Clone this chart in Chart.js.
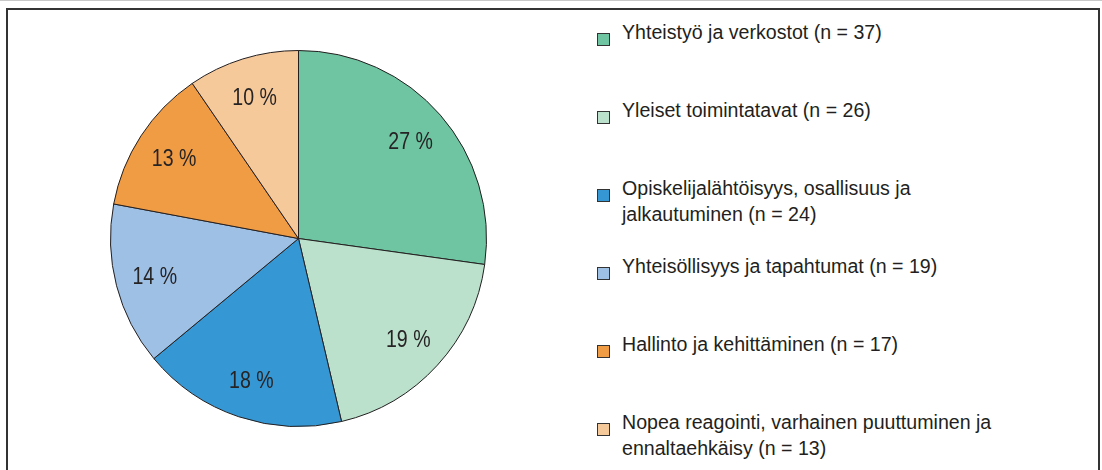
<!DOCTYPE html>
<html lang="fi">
<head>
  <meta charset="UTF-8">
  <title>Pie</title>
  <script src="https://cdn.jsdelivr.net/npm/chart.js"></script>
  <style>
    body {
      margin: 0;
      width: 1102px;
      height: 470px;
      overflow: hidden;
      background: #fff;
      position: relative;
      font-family: 'Liberation Sans', Arial, sans-serif;
    }
    #topline {
      position: absolute;
      left: 0; top: 0;
      width: 1102px; height: 1px;
      background: #c8c8c8;
    }
    #frame {
      position: absolute;
      left: 6px; top: 8px;
      width: 1090px; height: 500px;
      border: 2px solid #333;
    }
    #pieBox {
      position: absolute;
      left: 110px; top: 50px;
      width: 377px; height: 377px;
    }
    #legend {
      position: absolute;
      left: 0; top: 0;
    }
    .item {
      position: absolute;
      left: 622px;
      width: 390px;
      font-size: 19.6px;
      line-height: 25.5px;
      color: #231f20;
    }
    .box {
      position: absolute;
      left: -25px;
      top: 12.5px;
      width: 11px;
      height: 11px;
      border: 1px solid #333;
    }
  </style>
</head>
<body>
  <div id="topline"></div>
  <div id="frame"></div>
  <div id="pieBox"><canvas id="pie"></canvas></div>
  <div id="legend"></div>

  <script>
    const categories = [
      'Yhteistyö ja verkostot',
      'Yleiset toimintatavat',
      'Opiskelijalähtöisyys, osallisuus ja jalkautuminen',
      'Yhteisöllisyys ja tapahtumat',
      'Hallinto ja kehittäminen',
      'Nopea reagointi, varhainen puuttuminen ja ennaltaehkäisy'
    ];
    const counts = [37, 26, 24, 19, 17, 13];
    const colors = ['#6fc5a2', '#bbe0cc', '#3597d3', '#9ec0e5', '#f09c45', '#f6c99b'];

    const total = counts.reduce((a, b) => a + b, 0);

    // legend as html, one row per category
    const legend = document.getElementById('legend');
    categories.forEach((name, i) => {
      const item = document.createElement('div');
      item.className = 'item';
      item.style.top = (20 + i * 78) + 'px';
      const box = document.createElement('span');
      box.className = 'box';
      box.style.background = colors[i];
      item.appendChild(box);
      item.appendChild(document.createTextNode(name + ' (n = ' + counts[i] + ')'));
      legend.appendChild(item);
    });

    // percent labels inside the slices
    const sliceLabels = {
      id: 'sliceLabels',
      afterDatasetsDraw(chart) {
        const ctx = chart.ctx;
        const meta = chart.getDatasetMeta(0);
        ctx.save();
        ctx.font = '23px "Liberation Sans", Arial, sans-serif';
        ctx.fillStyle = '#262324';
        ctx.textAlign = 'center';
        ctx.textBaseline = 'alphabetic';
        meta.data.forEach((arc, i) => {
          const p = arc.getProps(['x', 'y', 'startAngle', 'endAngle', 'outerRadius']);
          const mid = (p.startAngle + p.endAngle) / 2;
          const r = p.outerRadius * 0.79;
          const px = p.x + Math.cos(mid) * r;
          const py = p.y + Math.sin(mid) * r;
          const text = Math.round(counts[i] / total * 100) + ' %';
          ctx.save();
          ctx.translate(px, py + 8.2);
          ctx.scale(0.85, 1);
          ctx.fillText(text, 0, 0);
          ctx.restore();
        });
        ctx.restore();
      }
    };

    new Chart(document.getElementById('pie'), {
      type: 'pie',
      data: {
        labels: categories,
        datasets: [{
          data: counts,
          backgroundColor: colors,
          borderColor: '#231f20',
          borderWidth: 1,
          hoverOffset: 0
        }]
      },
      options: {
        responsive: true,
        maintainAspectRatio: false,
        animation: false,
        layout: { padding: 0 },
        plugins: {
          legend: { display: false },
          tooltip: { enabled: false }
        }
      },
      plugins: [sliceLabels]
    });
  </script>
</body>
</html>
